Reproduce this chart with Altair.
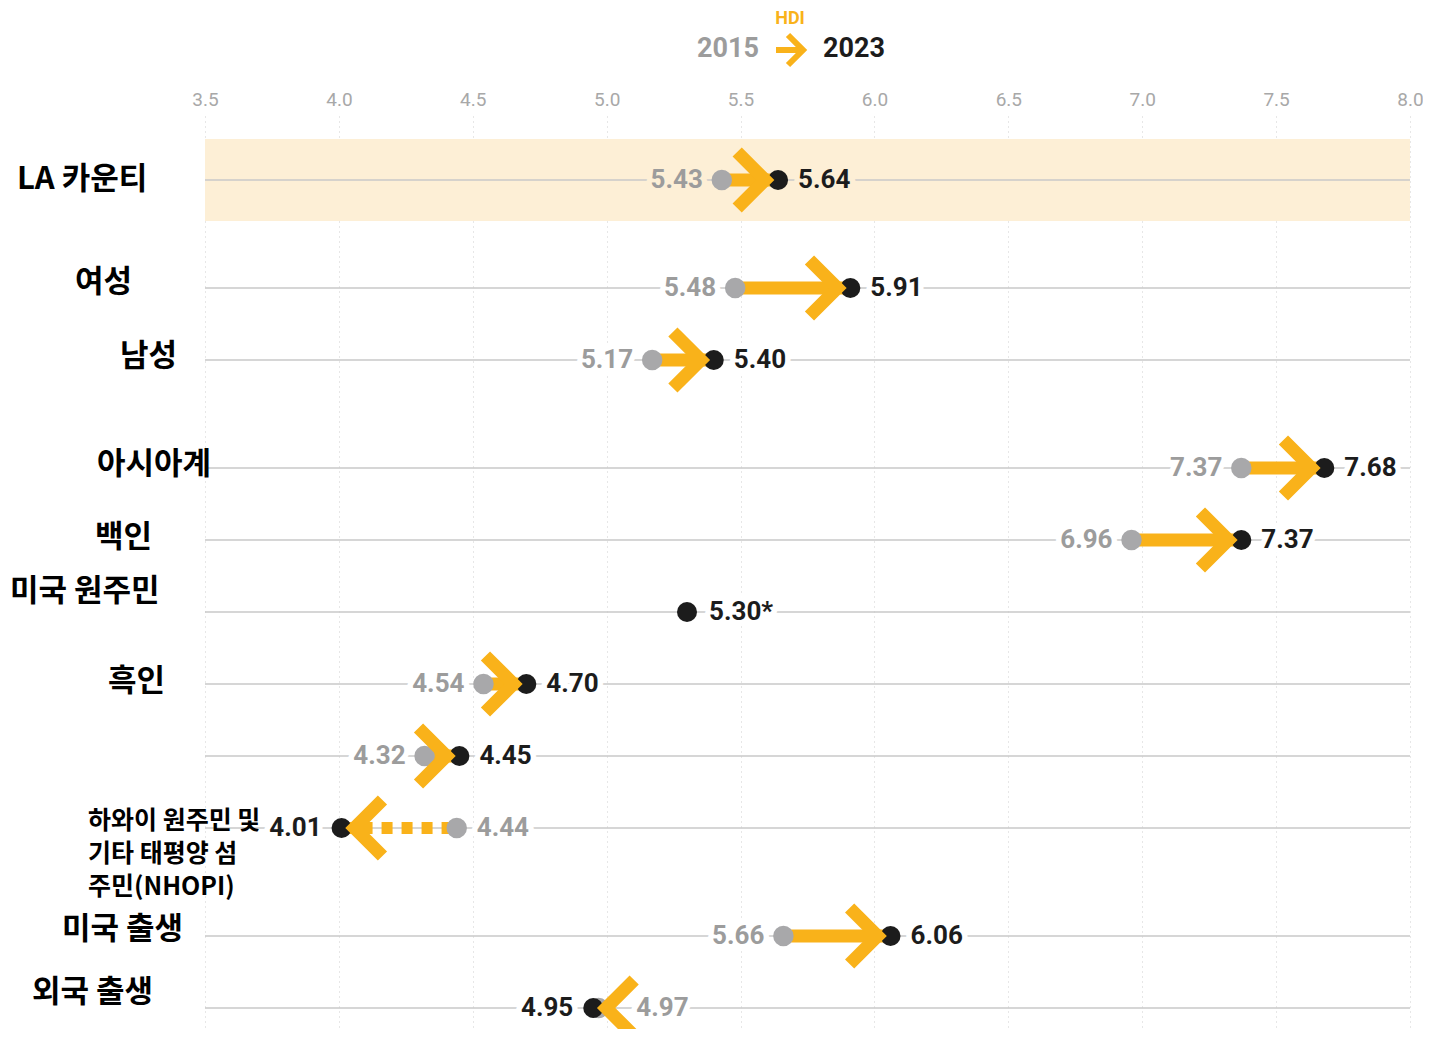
import altair as alt
import pandas as pd

# ---------------- data ----------------
row_keys = ["LA", "여성", "남성", "아시아계", "백인", "미국 원주민", "흑인", "라틴계", "NHOPI", "미국 출생", "외국 출생"]
hdi_2015 = [5.43, 5.48, 5.17, 7.37, 6.96, None, 4.54, 4.32, 4.44, 5.66, 4.97]
hdi_2023 = [5.64, 5.91, 5.40, 7.68, 7.37, 5.30, 4.70, 4.45, 4.01, 6.06, 4.95]
note_2023 = ["", "", "", "", "", "*", "", "", "", "", ""]

row_labels = ["LA 카운티", "여성", "남성", "아시아계", "백인", "미국 원주민", "흑인",
              "하와이 원주민 및", "기타 태평양 섬", "주민(NHOPI)", "미국 출생", "외국 출생"]
x_ticks = [3.5, 4.0, 4.5, 5.0, 5.5, 6.0, 6.5, 7.0, 7.5, 8.0]

# ---------------- layout ----------------
row_slot = [0, 1.5, 2.5, 4, 5, 6, 7, 8, 9, 10.5, 11.5]
label_left_px = [17, 75, 120, 97, 95, 10, 108, 88, 88, 88, 62, 32]
label_mid_px = [180, 283, 357, 465, 538, 592, 682, 821, 854, 887, 930, 993]
label_font = [31, 31, 31, 31, 31, 31, 31, 25, 25, 25, 31, 31]
highlight_row = "LA"

W, H = 1205, 912
PLOT_LEFT, PLOT_TOP = 205, 116
ROW0_PX, ROW_PX = 180, 72
XMIN, XMAX = 3.5, 8.0
PPU = W / (XMAX - XMIN)

YELLOW = "#F9B21A"
GRAY_DOT = "#A8A8AA"
GRAY_TXT = "#9C9C9C"
BLACK = "#1C1C1C"
CREAM = "#FDEFD6"
LINE = "#C8C8C8"

xscale = alt.Scale(domain=[XMIN, XMAX], nice=False, zero=False)
yscale = alt.Scale(domain=[(PLOT_TOP - ROW0_PX) / ROW_PX, (PLOT_TOP + H - ROW0_PX) / ROW_PX],
                   nice=False, zero=False, reverse=True)
xaxis = alt.Axis(orient="top", values=x_ticks, format=".1f", grid=True, gridDash=[1, 4],
                 gridColor="#CFCFCF", gridWidth=1, domain=False, ticks=False, labelPadding=7,
                 labelFontSize=19, labelFontWeight="normal", labelColor="#A8A8A8", labelFont="Roboto",
                 labelFlush=False, title=None)


def X(field):
    return alt.X(f"{field}:Q", scale=xscale, axis=xaxis)


def Y(field="slot"):
    return alt.Y(f"{field}:Q", scale=yscale, axis=None)


# ---------------- frames ----------------
rows_df = pd.DataFrame({
    "row": row_keys, "slot": row_slot, "v15": hdi_2015, "v23": hdi_2023,
})
rows_df["x0"] = XMIN
rows_df["x1"] = XMAX

trend = rows_df.dropna(subset=["v15"]).copy()
trend["dir"] = ["up" if b >= a else "down" for a, b in zip(trend["v15"], trend["v23"])]
solid = trend[trend["dir"] == "up"]
dashed = trend[trend["dir"] == "down"]

band_df = pd.DataFrame({"x0": [XMIN], "x1": [XMAX],
                        "y0": [-41 / ROW_PX], "y1": [41 / ROW_PX]})

labels = []
for r, s, a, b, n in zip(row_keys, row_slot, hdi_2015, hdi_2023, note_2023):
    halo = CREAM if r == highlight_row else "white"
    if a is None:
        labels.append(dict(slot=s, lx=b + 22 / PPU, t=f"{b:.2f}{n}", c=BLACK, side="L", halo=halo))
        continue
    if b >= a:
        labels.append(dict(slot=s, lx=b + 20 / PPU, t=f"{b:.2f}{n}", c=BLACK, side="L", halo=halo))
        labels.append(dict(slot=s, lx=a - 19 / PPU, t=f"{a:.2f}", c=GRAY_TXT, side="R", halo=halo))
    else:
        dist = (a - b) * PPU
        labels.append(dict(slot=s, lx=b - 20 / PPU, t=f"{b:.2f}{n}", c=BLACK, side="R", halo=halo))
        off = max(20, 43 - dist)
        labels.append(dict(slot=s, lx=a + off / PPU, t=f"{a:.2f}", c=GRAY_TXT, side="L", halo=halo))
lab_df = pd.DataFrame(labels)

rl_df = pd.DataFrame({
    "t": row_labels,
    "lx": [XMIN + (p - PLOT_LEFT) / PPU for p in label_left_px],
    "slot": [(p - ROW0_PX) / ROW_PX for p in label_mid_px],
    "fs": label_font,
})

# ---------------- layers ----------------
band = alt.Chart(band_df).mark_rect(color=CREAM).encode(
    x=X("x0"), x2="x1", y=Y("y0"), y2="y1")

row_rules = alt.Chart(rows_df).mark_rule(color=LINE, strokeWidth=1.5).encode(
    x=X("x0"), x2="x1", y=Y())


def halo_layer(side):
    return alt.Chart(lab_df[lab_df["side"] == side]).mark_text(
        font="Roboto", fontWeight="bold", fontSize=26, baseline="middle",
        align="left" if side == "L" else "right", strokeWidth=11, strokeJoin="round"
    ).encode(x=X("lx"), y=Y(), text="t:N",
             fill=alt.Fill("halo:N", scale=None), stroke=alt.Stroke("halo:N", scale=None))


def text_layer(side):
    return alt.Chart(lab_df[lab_df["side"] == side]).mark_text(
        font="Roboto", fontWeight="bold", fontSize=26, baseline="middle",
        align="left" if side == "L" else "right"
    ).encode(x=X("lx"), y=Y(), text="t:N", color=alt.Color("c:N", scale=None))


shaft = alt.Chart(solid).mark_rule(color=YELLOW, strokeWidth=13).encode(
    x=X("v15"), x2="v23", y=Y())
shaft_dash = alt.Chart(dashed).mark_rule(color=YELLOW, strokeWidth=12, strokeDash=[11, 9]).encode(
    x=X("v23"), x2="v15", y=Y())

gray_dots = alt.Chart(trend).mark_circle(color=GRAY_DOT, size=420, opacity=1).encode(
    x=X("v15"), y=Y())
black_dots = alt.Chart(rows_df).mark_circle(color=BLACK, size=400, opacity=1).encode(
    x=X("v23"), y=Y())

chev_up = "M -1.46 -1 L -0.46 0 L -1.46 1"
chev_down = "M 1.46 -1 L 0.46 0 L 1.46 1"
chevrons = alt.Chart(trend).mark_point(filled=False, strokeWidth=13, color=YELLOW,
                                       opacity=1, size=(2 * 28) ** 2, strokeJoin="miter").encode(
    x=X("v23"), y=Y(),
    shape=alt.Shape("dir:N", scale=alt.Scale(domain=["up", "down"], range=[chev_up, chev_down]),
                    legend=None))

row_text = alt.Chart(rl_df).mark_text(
    font="Noto Sans CJK KR", fontWeight="bold", align="left", baseline="middle", color="black"
).encode(x=X("lx"), y=Y(), text="t:N", size=alt.Size("fs:Q", scale=None))

# header legend
one = pd.DataFrame({"k": [0]})
hdr_hdi = alt.Chart(one).mark_text(font="Roboto", fontWeight="bold", fontSize=18, color=YELLOW,
                                   baseline="middle", align="center").encode(
    x=alt.value(790 - PLOT_LEFT), y=alt.value(19 - PLOT_TOP), text=alt.value("HDI"))
hdr_2015 = alt.Chart(one).mark_text(font="Roboto", fontWeight="bold", fontSize=27, color=GRAY_TXT,
                                    baseline="middle", align="center").encode(
    x=alt.value(728 - PLOT_LEFT), y=alt.value(49 - PLOT_TOP), text=alt.value("2015"))
hdr_2023 = alt.Chart(one).mark_text(font="Roboto", fontWeight="bold", fontSize=27, color=BLACK,
                                    baseline="middle", align="center").encode(
    x=alt.value(854 - PLOT_LEFT), y=alt.value(49 - PLOT_TOP), text=alt.value("2023"))
hdr_shaft = alt.Chart(one).mark_rule(color=YELLOW, strokeWidth=6).encode(
    x=alt.value(776 - PLOT_LEFT), x2=alt.value(802 - PLOT_LEFT), y=alt.value(50 - PLOT_TOP))
hdr_chev = alt.Chart(one).mark_point(shape="M -1 -1 L 0 0 L -1 1", filled=False, strokeWidth=6,
                                     color=YELLOW, opacity=1, size=900).encode(
    x=alt.value(803 - PLOT_LEFT), y=alt.value(50 - PLOT_TOP))

chart = alt.layer(
    band, row_rules, halo_layer("L"), halo_layer("R"),
    shaft, shaft_dash, gray_dots, black_dots, chevrons,
    text_layer("L"), text_layer("R"), row_text,
    hdr_hdi, hdr_2015, hdr_2023, hdr_shaft, hdr_chev,
).properties(
    width=W, height=H,
    autosize=alt.AutoSizeParams(type="none"),
    padding={"left": PLOT_LEFT - 8, "top": PLOT_TOP - 8, "right": 13, "bottom": 1},
).configure_view(stroke=None)

chart.save("out.html", embed_options={"renderer": "svg", "actions": False})
